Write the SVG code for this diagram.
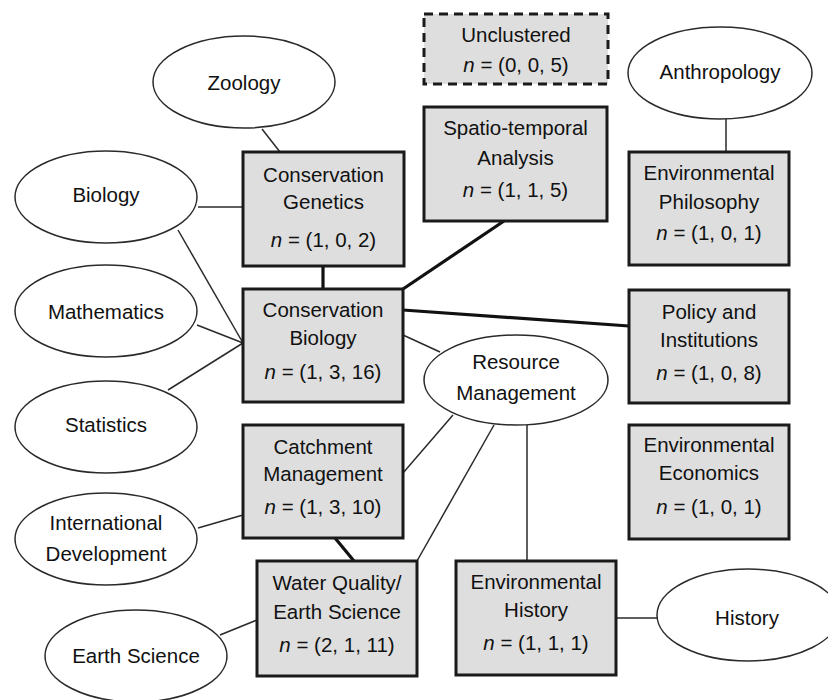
<svg xmlns="http://www.w3.org/2000/svg" width="828" height="700" viewBox="0 0 828 700">
  <style>
    .box { fill: #dedede; stroke: #1a1a1a; stroke-width: 3; }
    .dashed { stroke-dasharray: 9 6; }
    .ell { fill: #ffffff; stroke: #2a2a2a; stroke-width: 1.5; }
    .thin { stroke: #2a2a2a; stroke-width: 1.5; fill: none; }
    .thick { stroke: #111111; stroke-width: 3.2; fill: none; }
    text { font-family: "Liberation Sans", Arial, sans-serif; font-size: 20.5px; fill: #111111; text-anchor: middle; }
    .it { font-style: italic; }
  </style>
  <rect width="828" height="700" fill="#ffffff"/>

  <!-- connectors -->
  <g id="connectors">
    <line class="thin" x1="262" y1="129" x2="280" y2="152"/>
    <line class="thin" x1="198" y1="207" x2="243" y2="207"/>
    <line class="thin" x1="178" y1="230" x2="243" y2="343"/>
    <line class="thin" x1="197" y1="325" x2="243" y2="343"/>
    <line class="thin" x1="168" y1="390" x2="243" y2="343"/>
    <line class="thin" x1="198" y1="528" x2="243" y2="515"/>
    <line class="thin" x1="220" y1="635" x2="257" y2="620"/>
    <line class="thin" x1="403" y1="335" x2="440" y2="352"/>
    <line class="thin" x1="453" y1="415" x2="403" y2="473"/>
    <line class="thin" x1="494" y1="425" x2="417" y2="561"/>
    <line class="thin" x1="527" y1="425" x2="527" y2="561"/>
    <line class="thin" x1="616" y1="618" x2="657" y2="618"/>
    <line class="thin" x1="726" y1="118" x2="726" y2="152"/>
    <line class="thick" x1="323" y1="266" x2="323" y2="289"/>
    <line class="thick" x1="403" y1="289" x2="504" y2="221"/>
    <line class="thick" x1="403" y1="310" x2="629" y2="326"/>
    <line class="thick" x1="335" y1="538" x2="354" y2="561"/>
  </g>

  <!-- clusters -->
  <g id="unclustered">
    <rect class="box dashed" x="424" y="14" width="184" height="70"/>
    <text x="516" y="42">Unclustered</text>
    <text x="516" y="72"><tspan class="it">n</tspan> = (0, 0, 5)</text>
  </g>
  <g id="spatio-temporal">
    <rect class="box" x="424" y="107" width="183" height="114"/>
    <text x="515.5" y="135">Spatio-temporal</text>
    <text x="515.5" y="165">Analysis</text>
    <text x="515.5" y="197"><tspan class="it">n</tspan> = (1, 1, 5)</text>
  </g>
  <g id="conservation-genetics">
    <rect class="box" x="243" y="152" width="161" height="114"/>
    <text x="323.5" y="182">Conservation</text>
    <text x="323.5" y="209">Genetics</text>
    <text x="323.5" y="247"><tspan class="it">n</tspan> = (1, 0, 2)</text>
  </g>
  <g id="conservation-biology">
    <rect class="box" x="243" y="289" width="160" height="113"/>
    <text x="323" y="317">Conservation</text>
    <text x="323" y="345">Biology</text>
    <text x="323" y="379"><tspan class="it">n</tspan> = (1, 3, 16)</text>
  </g>
  <g id="catchment-management">
    <rect class="box" x="243" y="425" width="160" height="113"/>
    <text x="323" y="454">Catchment</text>
    <text x="323" y="481">Management</text>
    <text x="323" y="514"><tspan class="it">n</tspan> = (1, 3, 10)</text>
  </g>
  <g id="water-quality">
    <rect class="box" x="257" y="561" width="160" height="115"/>
    <text x="337" y="590">Water Quality/</text>
    <text x="337" y="619">Earth Science</text>
    <text x="337" y="652"><tspan class="it">n</tspan> = (2, 1, 11)</text>
  </g>
  <g id="environmental-philosophy">
    <rect class="box" x="629" y="152" width="160" height="113"/>
    <text x="709" y="180">Environmental</text>
    <text x="709" y="209">Philosophy</text>
    <text x="709" y="240"><tspan class="it">n</tspan> = (1, 0, 1)</text>
  </g>
  <g id="policy-institutions">
    <rect class="box" x="629" y="290" width="160" height="113"/>
    <text x="709" y="319">Policy and</text>
    <text x="709" y="347">Institutions</text>
    <text x="709" y="380"><tspan class="it">n</tspan> = (1, 0, 8)</text>
  </g>
  <g id="environmental-economics">
    <rect class="box" x="629" y="425" width="160" height="114"/>
    <text x="709" y="452">Environmental</text>
    <text x="709" y="480">Economics</text>
    <text x="709" y="514"><tspan class="it">n</tspan> = (1, 0, 1)</text>
  </g>
  <g id="environmental-history">
    <rect class="box" x="456" y="561" width="160" height="114"/>
    <text x="536" y="589">Environmental</text>
    <text x="536" y="617">History</text>
    <text x="536" y="650"><tspan class="it">n</tspan> = (1, 1, 1)</text>
  </g>

  <!-- disciplines -->
  <g id="zoology">
    <ellipse class="ell" cx="244" cy="82" rx="91" ry="46"/>
    <text x="244" y="90">Zoology</text>
  </g>
  <g id="biology">
    <ellipse class="ell" cx="106" cy="197" rx="91" ry="46"/>
    <text x="106" y="202">Biology</text>
  </g>
  <g id="mathematics">
    <ellipse class="ell" cx="106" cy="311" rx="91" ry="46"/>
    <text x="106" y="319">Mathematics</text>
  </g>
  <g id="statistics">
    <ellipse class="ell" cx="106" cy="427" rx="91" ry="46"/>
    <text x="106" y="432">Statistics</text>
  </g>
  <g id="international-development">
    <ellipse class="ell" cx="106" cy="539" rx="91" ry="46"/>
    <text x="106" y="530">International</text>
    <text x="106" y="561">Development</text>
  </g>
  <g id="earth-science">
    <ellipse class="ell" cx="136" cy="656" rx="91" ry="46"/>
    <text x="136" y="663">Earth Science</text>
  </g>
  <g id="resource-management">
    <ellipse class="ell" cx="516" cy="380" rx="92" ry="45"/>
    <text x="516" y="369">Resource</text>
    <text x="516" y="400">Management</text>
  </g>
  <g id="anthropology">
    <ellipse class="ell" cx="720" cy="73" rx="92" ry="46"/>
    <text x="720" y="79">Anthropology</text>
  </g>
  <g id="history">
    <ellipse class="ell" cx="748" cy="615" rx="91" ry="46"/>
    <text x="747" y="625">History</text>
  </g>
</svg>
